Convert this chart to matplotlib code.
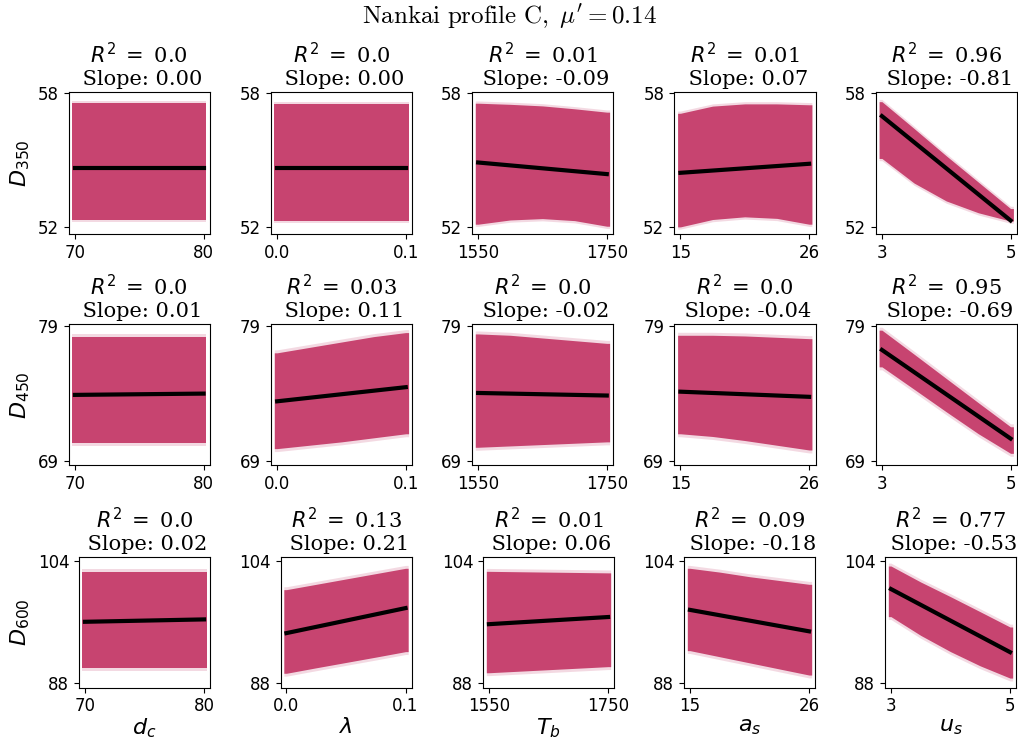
import numpy as np
import matplotlib
matplotlib.use("Agg")
import matplotlib.pyplot as plt

# ---- data -------------------------------------------------------------
x_labels = [r"$d_c$", r"$\lambda$", r"$T_b$", r"$a_s$", r"$u_s$"]
x_ranges = [(70, 80), (0.0, 0.1), (1550, 1750), (15, 26), (3, 5)]
x_tick_labels = [("70", "80"), ("0.0", "0.1"), ("1550", "1750"), ("15", "26"), ("3", "5")]

y_labels = [r"$D_{350}$", r"$D_{450}$", r"$D_{600}$"]
y_min = [51.99, 69.14, 88.12]
y_max = [57.75, 78.66, 103.74]
y_mean = [54.64, 73.93, 96.14]

r_squared = [[0.0, 0.0, 0.01, 0.01, 0.96],
             [0.0, 0.03, 0.0, 0.0, 0.95],
             [0.0, 0.13, 0.01, 0.09, 0.77]]
slopes = [[0.00, 0.00, -0.09, 0.07, -0.81],
          [0.01, 0.11, -0.02, -0.04, -0.69],
          [0.02, 0.21, 0.06, -0.18, -0.53]]

# cloud envelopes (dense region) sampled at normalised x = 0, .25, .5, .75, 1
env_x = [0.0, 0.25, 0.5, 0.75, 1.0]
upper_350 = [[57.55, 57.55, 57.55, 57.55, 57.55],
             [57.50, 57.50, 57.50, 57.50, 57.50],
             [57.55, 57.50, 57.43, 57.30, 57.15],
             [57.10, 57.42, 57.52, 57.52, 57.48],
             [57.62, 56.42, 55.20, 54.02, 52.84]]
lower_350 = [[52.32, 52.32, 52.32, 52.32, 52.32],
             [52.30, 52.30, 52.30, 52.30, 52.30],
             [52.14, 52.33, 52.39, 52.30, 52.05],
             [52.02, 52.35, 52.47, 52.40, 52.14],
             [55.08, 53.98, 53.18, 52.65, 52.28]]
upper_450 = [[78.19, 78.19, 78.19, 78.19, 78.19],
             [77.00, 77.40, 77.80, 78.20, 78.50],
             [78.40, 78.30, 78.10, 77.90, 77.70],
             [78.30, 78.30, 78.25, 78.15, 78.05],
             [78.68, 76.90, 75.10, 73.30, 71.52]]
lower_450 = [[70.29, 70.29, 70.29, 70.29, 70.29],
             [69.90, 70.15, 70.40, 70.70, 71.00],
             [70.00, 70.10, 70.20, 70.30, 70.40],
             [71.00, 70.80, 70.50, 70.15, 69.80],
             [75.96, 74.30, 72.63, 71.00, 69.55]]
upper_600 = [[102.56, 102.56, 102.56, 102.56, 102.56],
             [100.20, 100.90, 101.60, 102.30, 103.00],
             [102.60, 102.55, 102.50, 102.45, 102.40],
             [103.00, 102.50, 101.90, 101.40, 100.90],
             [103.30, 101.20, 99.28, 97.30, 95.30]]
lower_600 = [[89.89, 89.89, 89.89, 89.89, 89.89],
             [89.23, 89.95, 90.65, 91.35, 92.07],
             [89.30, 89.50, 89.70, 89.90, 90.10],
             [92.20, 91.40, 90.60, 89.80, 89.00],
             [96.66, 94.20, 92.07, 90.20, 88.60]]
uppers = [upper_350, upper_450, upper_600]
lowers = [lower_350, lower_450, lower_600]
halo = [0.10, 0.22, 0.38]

# ---- style ------------------------------------------------------------
cloud_color = "#C74470"
W, H = 1018, 742
fig = plt.figure(figsize=(W / 100, H / 100), dpi=100)

row_top = [92.3, 324.0, 556.7]
row_height = [141.7, 141.3, 131.0]
col_left = [[68.5, 270.7, 471.7, 674.0, 875.5],
            [68.5, 270.7, 471.7, 674.0, 875.5],
            [79.0, 280.5, 483.0, 684.0, 885.0]]
col_width = [141.5, 141.5, 131.0]

for r in range(3):
    for c in range(5):
        left = col_left[r][c] / W
        bottom = 1 - (row_top[r] + row_height[r]) / H
        ax = fig.add_axes([left, bottom, col_width[r] / W, row_height[r] / H])

        x0, x1 = x_ranges[c]
        span = x1 - x0
        xn = np.array(env_x)
        # markers spill slightly past the sampled range
        xn_ext = np.concatenate(([-0.022], xn, [1.022]))
        up = np.array(uppers[r][c])
        lo = np.array(lowers[r][c])
        up_ext = np.concatenate(([up[0]], up, [up[-1]]))
        lo_ext = np.concatenate(([lo[0]], lo, [lo[-1]]))
        xs = x0 + xn_ext * span

        ax.fill_between(xs, lo_ext - halo[r], up_ext + halo[r],
                        color=cloud_color, alpha=0.2, linewidth=0)
        ax.fill_between(xs, lo_ext, up_ext, color=cloud_color, linewidth=0)

        yr = y_max[r] - y_min[r]
        s = slopes[r][c]
        line_y = [y_mean[r] - 0.5 * s * yr, y_mean[r] + 0.5 * s * yr]
        ax.plot([x0, x1], line_y, color="black", lw=3)

        ax.set_xlim(x0 - 0.05 * span, x1 + 0.05 * span)
        ax.set_ylim(y_min[r] - 0.05 * yr, y_max[r] + 0.05 * yr)
        ax.set_xticks([x0, x1])
        ax.set_xticklabels(x_tick_labels[c])
        ax.set_yticks([round(y_min[r]), round(y_max[r])])
        ax.tick_params(labelsize=12)

        ax.set_title(r"$R^2\;=$ " + f"{r_squared[r][c]}\n Slope: {s:.2f}",
                     fontsize=15, family="DejaVu Serif", pad=5)
        if c == 0:
            ax.set_ylabel(y_labels[r], fontsize=16)
        if r == 2:
            ax.set_xlabel(x_labels[c], fontsize=16, labelpad=1)

fig.text(0.5, 1 - 17 / H, r"$\mathrm{Nankai\ profile\ C},\ \mu^{\prime} = 0.14$",
         math_fontfamily="cm", fontsize=18, ha="center", va="center")

fig.savefig("out.png", dpi=100)
